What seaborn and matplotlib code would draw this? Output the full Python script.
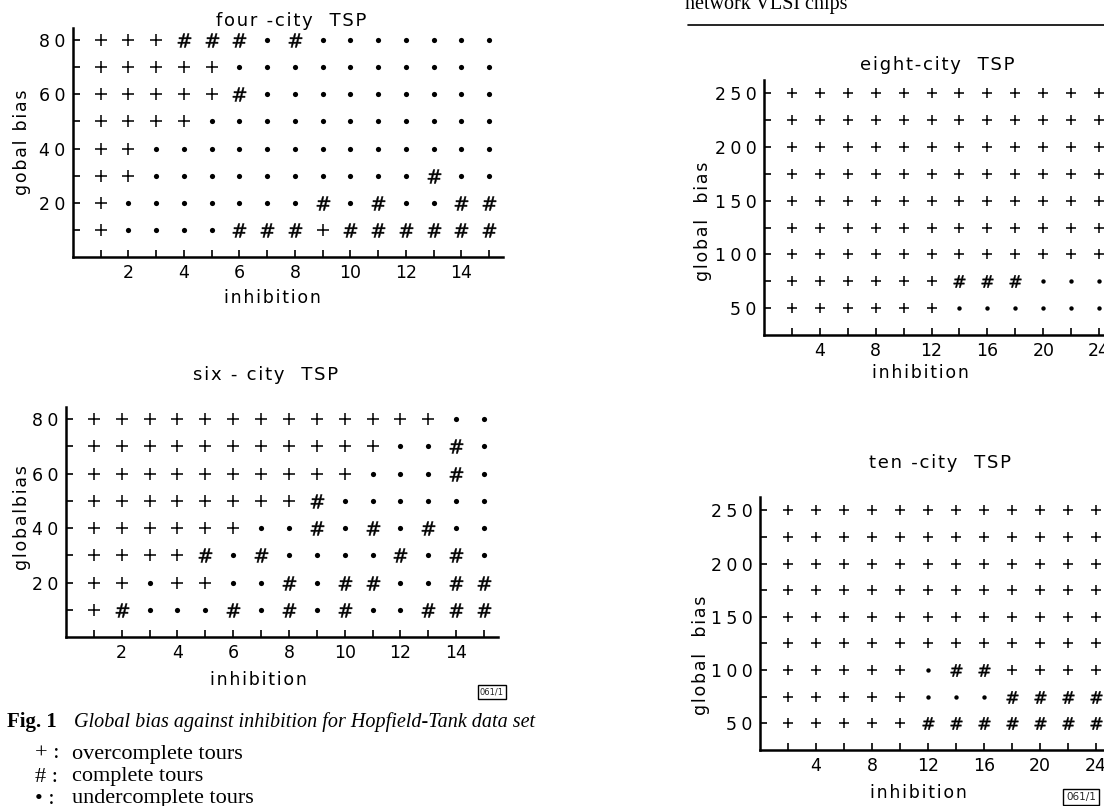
import numpy as np
import pandas as pd
import matplotlib
matplotlib.use("Agg")
import matplotlib.pyplot as plt
import seaborn as sns
from matplotlib.lines import Line2D

sns.set_theme(style="ticks")
plt.rcParams["font.family"] = ["DejaVu Sans"]

W, H = 1104, 806

# ---------------- data ----------------
# '+' overcomplete, '#' complete, '.' undercomplete
four_x = list(range(1, 16))
four_y = [80, 70, 60, 50, 40, 30, 20, 10]
four_rows = [
    "+++###.#.......",
    "+++++..........",
    "+++++#.........",
    "++++...........",
    "++.............",
    "++..........#..",
    "+.......#.#..##",
    "+....###+######",
]

six_x = list(range(1, 16))
six_y = [80, 70, 60, 50, 40, 30, 20, 10]
six_rows = [
    "+++++++++++++..",
    "+++++++++++..#.",
    "++++++++++...#.",
    "++++++++#......",
    "++++++..#.#.#..",
    "++++#.#....#.#.",
    "++.++..#.##..##",
    "+#...#.#.#..###",
]

eight_x = list(range(2, 25, 2))
eight_y = [250, 225, 200, 175, 150, 125, 100, 75, 50]
eight_rows = [
    "++++++++++++",
    "++++++++++++",
    "++++++++++++",
    "++++++++++++",
    "++++++++++++",
    "++++++++++++",
    "++++++++++++",
    "++++++###...",
    "++++++......",
]

ten_x = list(range(2, 25, 2))
ten_y = [250, 225, 200, 175, 150, 125, 100, 75, 50]
ten_rows = [
    "++++++++++++",
    "++++++++++++",
    "++++++++++++",
    "++++++++++++",
    "++++++++++++",
    "++++++++++++",
    "+++++.##++++",
    "+++++...####",
    "+++++#######",
]

small_xticks = list(range(1, 16))
small_xlabels = [str(v) if v % 2 == 0 else "" for v in small_xticks]
small_yticks = [10, 20, 30, 40, 50, 60, 70, 80]
small_ylabels = [str(v) if v % 20 == 0 else "" for v in small_yticks]

big_xticks = list(range(2, 27, 2))
big_xlabels = [str(v) if v % 4 == 0 else "" for v in big_xticks]
big_yticks = [50, 75, 100, 125, 150, 175, 200, 225, 250]
big_ylabels = [str(v) if v % 50 == 0 else "" for v in big_yticks]

HAIR = "\u200a"
MID = "\u2005"


def spaced(s, ch=HAIR):
    return ch.join(s)


def px(x, y):
    return x / W, 1 - y / H


def frame(rows, xs, ys):
    recs = []
    for y, row in zip(ys, rows):
        for x, c in zip(xs, row):
            recs.append((x, y, c))
    return pd.DataFrame(recs, columns=["inhibition", "bias", "state"])


def panel(rect_px, rows, xs, ys, xlim, ylim, xticks, xlabels, yticks, ylabels, msz):
    l, t, r, b = rect_px
    ax = fig.add_axes([l / W, 1 - b / H, (r - l) / W, (b - t) / H])
    df = frame(rows, xs, ys)
    s_plus, s_hash, s_dot = msz
    sub = df[df.state == "+"]
    if len(sub):
        sns.scatterplot(data=sub, x="inhibition", y="bias", marker="+", s=s_plus,
                        color="black", linewidth=1.1, ax=ax, legend=False)
    sub = df[df.state == "#"]
    if len(sub):
        sns.scatterplot(data=sub, x="inhibition", y="bias", marker=r"$\#$", s=s_hash,
                        color="black", linewidth=0.3, edgecolor="black", ax=ax, legend=False)
    sub = df[df.state == "."]
    if len(sub):
        sns.scatterplot(data=sub, x="inhibition", y="bias", marker="o", s=s_dot,
                        color="black", linewidth=0, ax=ax, legend=False)
    ax.set_xlim(*xlim)
    ax.set_ylim(*ylim)
    ax.set_xticks(xticks)
    ax.set_xticklabels(xlabels)
    ax.set_yticks(yticks)
    ax.set_yticklabels([spaced(v, MID) for v in ylabels])
    ax.set_xlabel("")
    ax.set_ylabel("")
    ax.tick_params(direction="in", length=5, width=1.2, labelsize=12.5, colors="black")
    ax.tick_params(axis="y", pad=5.5)
    ax.tick_params(axis="x", pad=5)
    for side in ["top", "right"]:
        ax.spines[side].set_visible(False)
    for side in ["left", "bottom"]:
        ax.spines[side].set_linewidth(1.8)
        ax.spines[side].set_color("black")
    ax.set_facecolor("none")
    return ax


fig = plt.figure(figsize=(W / 100, H / 100), dpi=100)
fig.patch.set_facecolor("white")

panel((73, 28, 503, 257), four_rows, four_x, four_y, (0, 15.5), (0, 84.5),
      small_xticks, small_xlabels, small_yticks, small_ylabels, (74, 100, 14))
panel((66, 407, 498, 637), six_rows, six_x, six_y, (0, 15.5), (0, 84.5),
      small_xticks, small_xlabels, small_yticks, small_ylabels, (74, 100, 14))
panel((764, 80, 1141, 335), eight_rows, eight_x, eight_y, (0, 27), (25, 262.5),
      big_xticks, big_xlabels, big_yticks, big_ylabels, (60, 78, 10))
panel((760, 497, 1138, 750), ten_rows, ten_x, ten_y, (0, 27), (25, 262.5),
      big_xticks, big_xlabels, big_yticks, big_ylabels, (60, 78, 10))

tkw = dict(fontsize=13, color="black", ha="center", va="center")
lkw = dict(fontsize=12.5, color="black", ha="center", va="center")
fig.text(*px(291, 21), spaced("four -city  TSP"), **tkw)
fig.text(*px(272, 298), spaced("inhibition"), **lkw)
fig.text(*px(22, 142), spaced("gobal bias"), rotation=90, **lkw)

fig.text(*px(266, 375), spaced("six - city  TSP"), **tkw)
fig.text(*px(258, 680), spaced("inhibition"), **lkw)
fig.text(*px(22, 518), spaced("globalbias"), rotation=90, **lkw)
fig.text(*px(492, 692), "061/1", fontsize=6, ha="center", va="center",
         bbox=dict(boxstyle="square,pad=0.25", fc="white", ec="black", lw=1))

fig.text(*px(937, 65), spaced("eight-city  TSP"), **tkw)
fig.text(*px(920, 373), spaced("inhibition"), **lkw)
fig.text(*px(703, 221), spaced("global  bias"), rotation=90, **lkw)

fig.text(*px(940, 463), spaced("ten -city  TSP"), **tkw)
fig.text(*px(918, 793), spaced("inhibition"), **lkw)
fig.text(*px(701, 655), spaced("global  bias"), rotation=90, **lkw)
fig.text(*px(1081, 797), "061/1", fontsize=7.5, ha="center", va="center",
         bbox=dict(boxstyle="square,pad=0.25", fc="white", ec="black", lw=1))

# caption and legend (serif, as printed)
serif = ["Liberation Serif", "DejaVu Serif"]
fig.text(*px(7, 722), "Fig. 1", family=serif, fontsize=15, fontweight="bold",
         ha="left", va="center", color="black")
fig.text(*px(74, 722), "Global bias against inhibition for Hopfield-Tank data set",
         family=serif, fontsize=14.5, style="italic", ha="left", va="center", color="black")
legend_symbols = ["+ :", "# :", "• :"]
legend_texts = ["overcomplete tours", "complete tours", "undercomplete tours"]
for sym, txt, yy in zip(legend_symbols, legend_texts, [754, 777, 799]):
    fig.text(*px(35, yy), sym, family=serif, fontsize=16, ha="left", va="center",
             color="black")
    fig.text(*px(72, yy), txt, family=serif, fontsize=16, ha="left", va="center",
             color="black")

# header fragment of the right-hand page
fig.text(*px(685, 4), "network VLSI chips", family=serif, fontsize=14.5,
         ha="left", va="center", color="black")
fig.add_artist(Line2D([688 / W, 1.0], [1 - 25 / H, 1 - 25 / H], color="black",
                      lw=1.2, transform=fig.transFigure))

fig.savefig("out.png", dpi=100)
